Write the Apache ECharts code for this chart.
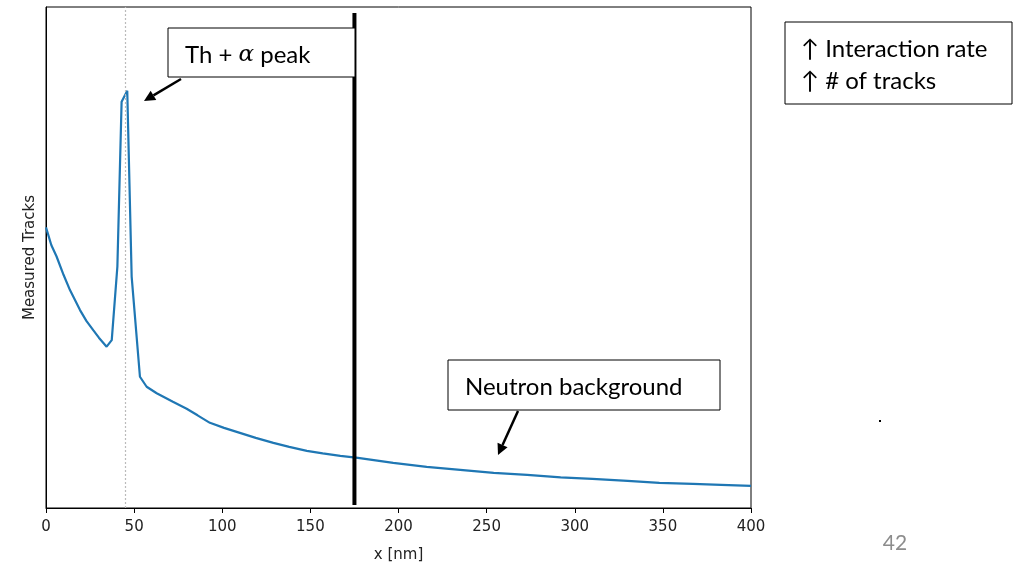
<!DOCTYPE html>
<html>
<head>
<meta charset="utf-8">
<script src="https://cdn.jsdelivr.net/npm/echarts@6/dist/echarts.min.js"></script>
<style>
html,body{margin:0;padding:0;background:#fff;}
#chart{width:1016px;height:564px;}
</style>
</head>
<body>
<div id="chart"></div>
<script>
// Data
const xValues = [0, 3, 6, 10, 13.6, 19.3, 23, 26.8, 30, 34.4, 37.3, 40.5, 42.9, 46.1, 48.6, 53.3, 57.1, 62.8, 72, 79.8, 86, 93, 101, 110, 119, 129, 138, 148, 157, 167, 177, 187, 197, 216, 235, 254, 273, 292, 310, 330, 348, 367, 383, 400];
const tracks  = [56, 52.5, 50.2, 46.5, 43.5, 39.5, 37.3, 35.5, 34, 32.2, 33.5, 48.2, 81.1, 83.3, 46.2, 26.2, 24.2, 22.9, 21.2, 19.8, 18.5, 17.0, 16.0, 15.0, 14.0, 13.0, 12.2, 11.4, 10.9, 10.4, 10.0, 9.5, 9.0, 8.2, 7.6, 7.0, 6.6, 6.1, 5.8, 5.4, 5.0, 4.8, 4.6, 4.4];
const xTicks = [0, 50, 100, 150, 200, 250, 300, 350, 400];
const peakX = 45;       // dotted guide line
const cutX = 175;       // thick black cut line
const cutRange = [0.6, 98.8];
const labels = {
  peakA: 'Th + ',
  peakAlpha: '\u03b1',
  peakB: ' peak',
  neutron: 'Neutron background',
  note1: '\u2191 Interaction rate',
  note2: '\u2191 # of tracks',
  page: '42',
  xName: 'x [nm]',
  yName: 'Measured Tracks'
};

const chart = echarts.init(document.getElementById('chart'));
const font = 'DejaVu Sans';
const boxFont = 'Lato, "Open Sans", sans-serif';
const bf = 24;

function arrow(x1, y1, x2, y2) {
  const ang = Math.atan2(y2 - y1, x2 - x1);
  const L = 11, W = 5.5;
  const bx = x2 - L * Math.cos(ang), by = y2 - L * Math.sin(ang);
  const px = -Math.sin(ang) * W, py = Math.cos(ang) * W;
  return [
    { type: 'line', shape: { x1: x1, y1: y1, x2: bx, y2: by }, style: { stroke: '#000', lineWidth: 2.5 }, z: 10 },
    { type: 'polygon', shape: { points: [[x2, y2], [bx + px, by + py], [bx - px, by - py]] }, style: { fill: '#000' }, z: 10 }
  ];
}

function rect(x, y, w, h) {
  return { type: 'rect', shape: { x: x, y: y, width: w, height: h }, style: { fill: '#fff', stroke: '#000', lineWidth: 1 }, z: 9 };
}

function txt(x, y, text, fs, extra) {
  return { type: 'text', x: x, y: y, style: Object.assign({ text: text, font: fs + 'px ' + boxFont, fill: '#000', textVerticalAlign: 'middle' }, extra || {}), z: 11 };
}

const option = {
  animation: false,
  grid: { left: 46, right: 265, top: 7, bottom: 56, show: true, borderColor: '#000', borderWidth: 1, backgroundColor: 'transparent', containLabel: false, outerBoundsMode: 'none' },
  xAxis: {
    type: 'value', min: 0, max: 400, interval: 50,
    name: labels.xName, nameLocation: 'middle', nameGap: 40,
    nameTextStyle: { fontFamily: font, fontSize: 15, color: '#222' },
    axisLine: { show: true, onZero: false, lineStyle: { color: '#000', width: 1 } },
    axisTick: { show: true, inside: false, length: 5, lineStyle: { color: '#000' } },
    axisLabel: { fontFamily: font, fontSize: 15, color: '#222', margin: 12,
      formatter: v => xTicks.indexOf(v) >= 0 ? String(v) : '' },
    splitLine: { show: false }
  },
  yAxis: {
    type: 'value', min: 0, max: 100,
    name: labels.yName, nameLocation: 'middle', nameGap: 8,
    nameTextStyle: { fontFamily: font, fontSize: 15, color: '#222' },
    axisLine: { show: true, lineStyle: { color: '#000' } },
    axisTick: { show: false }, axisLabel: { show: false }, splitLine: { show: false }
  },
  series: [
    {
      type: 'line', data: xValues.map((x, i) => [x, tracks[i]]),
      showSymbol: false, symbol: 'none',
      lineStyle: { color: '#1f77b4', width: 2.2 },
      z: 3,
      markLine: {
        silent: true, symbol: 'none', label: { show: false },
        lineStyle: { color: '#bbbbbb', type: [2, 2], width: 1.2 },
        data: [{ xAxis: peakX }]
      }
    },
    {
      type: 'line', data: [[cutX, cutRange[0]], [cutX, cutRange[1]]],
      showSymbol: false, symbol: 'none',
      lineStyle: { color: '#000', width: 4 }, z: 5
    }
  ],
  graphic: [].concat(
    [rect(168, 28, 187, 49),
     { type: 'text', x: 185, y: 55, z: 11, style: {
        text: '{n|' + labels.peakA + '}{a|' + labels.peakAlpha + '}{n|' + labels.peakB + '}',
        textVerticalAlign: 'middle',
        rich: {
          n: { fontFamily: boxFont, fontSize: bf, fill: '#000', color: '#000' },
          a: { fontFamily: 'DejaVu Serif', fontStyle: 'italic', fontSize: bf - 1, fill: '#000', color: '#000' }
        } } }],
    arrow(181, 79, 144, 101),
    [rect(448, 360, 272, 50), txt(465, 387, labels.neutron, bf)],
    arrow(518, 411, 498, 455),
    [
      rect(785, 22, 227, 82),
      txt(801, 49, labels.note1, bf),
      txt(801, 81, labels.note2, bf),
      txt(895, 543, labels.page, 21, { fill: '#8c8c8c', textAlign: 'center' }),
      { type: 'rect', shape: { x: 879, y: 420, width: 2, height: 2 }, style: { fill: '#000' } }
    ]
  )
};
chart.setOption(option);
</script>
</body>
</html>
